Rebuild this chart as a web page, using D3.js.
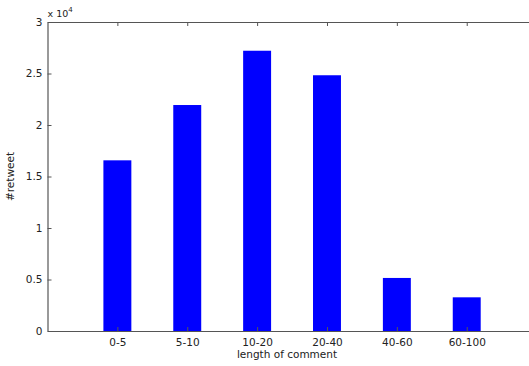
<!DOCTYPE html>
<html>
<head>
<meta charset="utf-8">
<script src="https://cdn.jsdelivr.net/npm/d3@7"></script>
<style>
  html, body { margin: 0; padding: 0; background: #fff; }
  svg { display: block; font-family: "DejaVu Sans", sans-serif; }
</style>
</head>
<body>
<svg id="chart" width="529" height="366"></svg>
<script>
const categories = ["0-5", "5-10", "10-20", "20-40", "40-60", "60-100"];
const retweets = [16570, 21940, 27210, 24830, 5150, 3270];
const yTicks = [0, 5000, 10000, 15000, 20000, 25000, 30000];
const yTickLabels = ["0", "0.5", "1", "1.5", "2", "2.5", "3"];

(function () {
const svg = d3.select("#chart");
const mLeft = 47.5, mRight = 536.6, mTop = 22, mBottom = 331;
const axisColor = "#555";
const fontSize = 10.5;

const x = d3.scaleLinear().domain([0, categories.length + 1]).range([mLeft, mRight]);
const y = d3.scaleLinear().domain([0, 30000]).range([mBottom, mTop]);
const barW = x(0.4) - x(0);

// bars
svg.append("g").selectAll("rect").data(retweets).enter().append("rect")
  .attr("x", (d, i) => x(i + 1) - barW / 2)
  .attr("y", d => y(d))
  .attr("width", barW)
  .attr("height", d => y(0) - y(d))
  .attr("fill", "#0000ff");

// bottom axis
const xAxis = d3.axisBottom(x)
  .tickValues(categories.map((c, i) => i + 1))
  .tickFormat((d) => categories[d - 1])
  .tickSizeInner(-4).tickSizeOuter(0).tickPadding(8);
const gx = svg.append("g").attr("transform", `translate(0,${mBottom})`).call(xAxis);

// top axis (box)
const xTop = d3.axisTop(x)
  .tickValues(categories.map((c, i) => i + 1))
  .tickFormat("")
  .tickSizeInner(-4).tickSizeOuter(0);
const gxt = svg.append("g").attr("transform", `translate(0,${mTop})`).call(xTop);

// left axis
const yAxis = d3.axisLeft(y)
  .tickValues(yTicks)
  .tickFormat((d, i) => yTickLabels[i])
  .tickSizeInner(-4).tickSizeOuter(0).tickPadding(5);
const gy = svg.append("g").attr("transform", `translate(${mLeft},0)`).call(yAxis);

[gx, gxt, gy].forEach(g => {
  g.select(".domain").attr("stroke", axisColor).attr("stroke-width", 1.2);
  g.selectAll(".tick line").attr("stroke", axisColor);
  g.selectAll(".tick text").attr("fill", "#222").style("font-size", fontSize + "px")
    .style("font-family", "DejaVu Sans, sans-serif");
});

// exponent label
const ex = svg.append("text").attr("x", mLeft).attr("y", 17)
  .attr("fill", "#222").style("font-size", "9.5px");
ex.append("tspan").text("x 10");
ex.append("tspan").attr("dy", -5).style("font-size", "7px").text("4");

// axis labels
svg.append("text")
  .attr("x", 287)
  .attr("y", 358)
  .attr("text-anchor", "middle")
  .attr("fill", "#222")
  .style("font-size", fontSize + "px")
  .text("length of comment");

svg.append("text")
  .attr("transform", `translate(14,${(mTop + mBottom) / 2}) rotate(-90)`)
  .attr("text-anchor", "middle")
  .attr("fill", "#222")
  .style("font-size", fontSize + "px")
  .text("#retweet");
})();
</script>
</body>
</html>
